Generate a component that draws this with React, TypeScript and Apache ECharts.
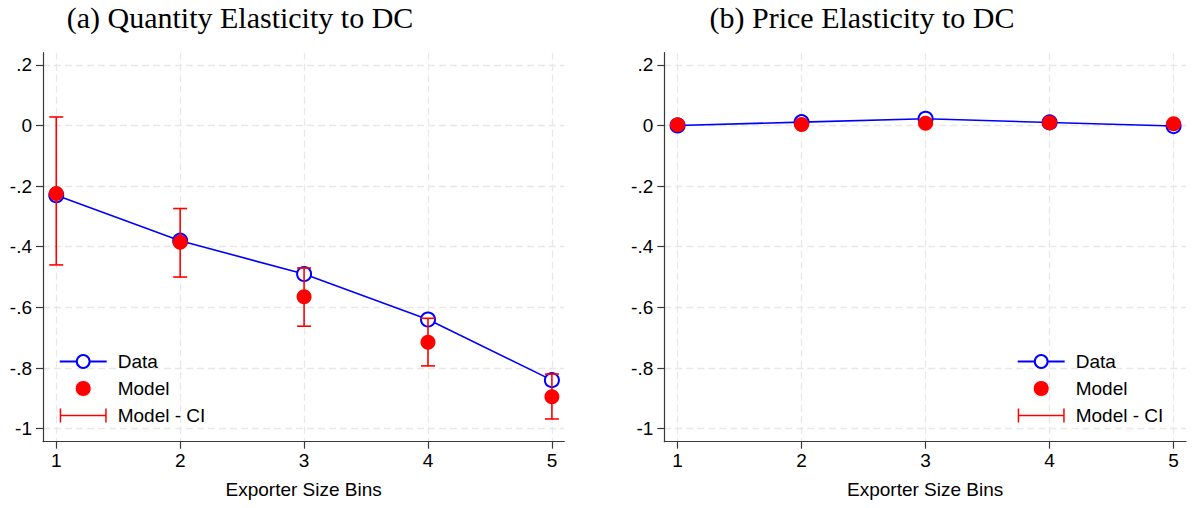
import React, { useEffect, useRef } from 'react';
import * as echarts from 'echarts';

const bins = [1, 2, 3, 4, 5];
const qtyData = [-0.23, -0.38, -0.49, -0.64, -0.84];
const qtyModel = [-0.224, -0.385, -0.565, -0.715, -0.895];
const qtyCiLow = [-0.46, -0.5, -0.662, -0.793, -0.968];
const qtyCiHigh = [0.028, -0.274, -0.47, -0.636, -0.82];
const priceData = [0.0, 0.011, 0.022, 0.01, -0.002];
const priceModel = [0.002, 0.003, 0.007, 0.009, 0.006];
const priceCiLow = [-0.004, -0.003, 0.001, 0.003, 0.0];
const priceCiHigh = [0.008, 0.009, 0.013, 0.015, 0.012];
const yTickValues = [-1, -0.8, -0.6, -0.4, -0.2, 0, 0.2];
const yTickLabels = ['-1', '-.8', '-.6', '-.4', '-.2', '0', '.2'];
const xTickValues = [1, 2, 3, 4, 5];
const xTickLabels = ['1', '2', '3', '4', '5'];
const titles = ['(a) Quantity Elasticity to DC', '(b) Price Elasticity to DC'];
const xAxisTitle = 'Exporter Size Bins';
const legendNames = ['Data', 'Model', 'Model - CI'];

const BLUE = '#0000ff';
const RED = '#ff0000';
const FONT = 'Liberation Sans, Arial, sans-serif';

function labelFor(values: number[], labels: string[]) {
  return (v: number) => {
    const i = values.findIndex((t) => Math.abs(t - v) < 1e-9);
    return i >= 0 ? labels[i] : '';
  };
}

function ciRender(params: any, api: any) {
  const x = api.value(0);
  const lo = api.coord([x, api.value(1)]);
  const hi = api.coord([x, api.value(2)]);
  const half = 7;
  const style = { stroke: RED, lineWidth: 1.6 };
  return {
    type: 'group',
    children: [
      { type: 'line', shape: { x1: lo[0], y1: lo[1], x2: hi[0], y2: hi[1] }, style },
      { type: 'line', shape: { x1: lo[0] - half, y1: lo[1], x2: lo[0] + half, y2: lo[1] }, style },
      { type: 'line', shape: { x1: hi[0] - half, y1: hi[1], x2: hi[0] + half, y2: hi[1] }, style },
    ],
  };
}

export default function App() {
  const ref = useRef<HTMLDivElement>(null);
  useEffect(() => {
    document.body.style.margin = '0';
    if (!ref.current) return;
    const chart = echarts.init(ref.current, null, { renderer: 'svg' });

    const grids = [
      { left: 43, top: 52.7, width: 521.3, height: 389 },
      { left: 664.3, top: 52.7, width: 521.7, height: 389 },
    ];

    const mkX = (gi: number) => ({
      type: 'value',
      gridIndex: gi,
      min: 0.893,
      max: 5.1,
      name: xAxisTitle,
      nameLocation: 'middle',
      nameGap: 38,
      nameTextStyle: { fontFamily: FONT, fontSize: 19, color: '#000' },
      axisLine: { show: true, onZero: false, lineStyle: { color: '#3a3a3a', width: 1.2 } },
      axisTick: { show: true, length: 7, customValues: xTickValues, lineStyle: { color: '#3a3a3a', width: 1.2 } },
      axisLabel: {
        customValues: xTickValues,
        margin: 9,
        fontFamily: FONT,
        fontSize: 19,
        color: '#000',
        formatter: labelFor(xTickValues, xTickLabels),
      },
      splitLine: { show: true, lineStyle: { color: '#e8e8e8', width: 1.3, type: [7, 4] } },
    });
    const mkY = (gi: number) => ({
      type: 'value',
      gridIndex: gi,
      min: -1.043,
      max: 0.24,
      axisLine: { show: true, onZero: false, lineStyle: { color: '#3a3a3a', width: 1.2 } },
      axisTick: { show: true, length: 7, customValues: yTickValues, lineStyle: { color: '#3a3a3a', width: 1.2 } },
      axisLabel: {
        customValues: yTickValues,
        margin: 11,
        fontFamily: FONT,
        fontSize: 19,
        color: '#000',
        formatter: labelFor(yTickValues, yTickLabels),
      },
      splitLine: { show: true, lineStyle: { color: '#e8e8e8', width: 1.3, type: [7, 4] } },
    });

    const panel = (gi: number, data: number[], model: number[], lo: number[], hi: number[]) => [
      {
        name: legendNames[0],
        type: 'line',
        xAxisIndex: gi,
        yAxisIndex: gi,
        data: bins.map((b, i) => [b, data[i]]),
        symbol: 'emptyCircle',
        symbolSize: 14,
        itemStyle: { color: BLUE, borderWidth: 1.6 },
        lineStyle: { color: BLUE, width: 1.6 },
        z: 2,
      },
      {
        name: legendNames[2],
        type: 'custom',
        xAxisIndex: gi,
        yAxisIndex: gi,
        data: bins.map((b, i) => [b, lo[i], hi[i]]),
        renderItem: ciRender,
        itemStyle: { color: RED },
        encode: { x: 0, y: [1, 2] },
        z: 3,
      },
      {
        name: legendNames[1],
        type: 'scatter',
        xAxisIndex: gi,
        yAxisIndex: gi,
        data: bins.map((b, i) => [b, model[i]]),
        symbol: 'circle',
        symbolSize: 15,
        itemStyle: { color: RED, opacity: 1 },
        z: 4,
      },
    ];

    const ciIcon = 'path://M0,0h1.5v14h-1.5z M0,6.25h47v1.5h-47z M45.5,0h1.5v14h-1.5z';
    const mkLegend = (left: number) => ({
      orient: 'vertical',
      left,
      top: 352,
      padding: 0,
      itemWidth: 47,
      itemHeight: 16,
      itemGap: 8,
      selectedMode: false,
      textStyle: { fontFamily: FONT, fontSize: 19, color: '#000', padding: [0, 0, 0, 6] },
      data: [
        { name: legendNames[0] },
        { name: legendNames[1], itemStyle: { borderColor: '#fff', borderWidth: 1 } },
        { name: legendNames[2], icon: ciIcon },
      ],
    });

    const titleStyle = {
      fontFamily: 'Liberation Serif, Times New Roman, serif',
      fontSize: 30,
      fill: '#000',
      textAlign: 'center',
      textVerticalAlign: 'middle',
    };

    chart.setOption({
      animation: false,
      backgroundColor: '#fff',
      grid: grids,
      xAxis: [mkX(0), mkX(1)],
      yAxis: [mkY(0), mkY(1)],
      legend: [mkLegend(58.7), mkLegend(1016.7)],
      graphic: [
        { type: 'text', x: 240, y: 17, style: { ...titleStyle, text: titles[0] } },
        { type: 'text', x: 862, y: 17, style: { ...titleStyle, text: titles[1] } },
      ],
      series: [
        ...panel(0, qtyData, qtyModel, qtyCiLow, qtyCiHigh),
        ...panel(1, priceData, priceModel, priceCiLow, priceCiHigh),
      ],
    });
    return () => chart.dispose();
  }, []);
  return <div ref={ref} style={{ width: 1192, height: 508 }} />;
}
